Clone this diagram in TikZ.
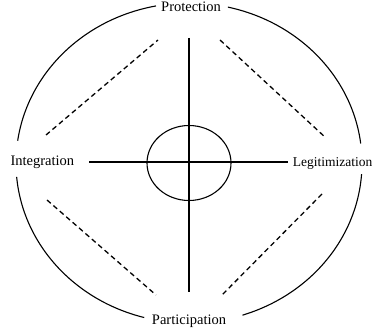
\documentclass[tikz,border=0pt]{standalone}
\usepackage{fontspec}
\setmainfont{Liberation Serif}
\usetikzlibrary{positioning,shapes.geometric}
\begin{document}
\begin{tikzpicture}[x=1pt,y=1pt,line width=1.1pt,
      lbl/.style={font=\fontsize{14.5}{17}\selectfont,inner sep=0pt},
      dsh/.style={dash pattern=on 5pt off 3.5pt,line width=1.3pt}]
    \useasboundingbox (0,0) rectangle (375,332);

    % outer ring, broken at the four labels
    \foreach \a/\b in {7/77,101/172,185/255,288/356}
      \draw ([shift={(\a:173pt and 160pt)}]189,169)
        arc[start angle=\a,end angle=\b,x radius=173pt,y radius=160pt];

    \node[lbl,anchor=base]      (prot)  at (191,320) {Protection};
    \node[lbl,anchor=base west] (integ) at (10,166)  {Integration};
    \node[lbl,anchor=base east,font=\fontsize{13.5}{16}\selectfont]
                                (legit) at (373,165) {Legitimization};
    \node[lbl,anchor=base]      (part)  at (189,7)   {Participation};

    % centre
    \node[draw,ellipse,minimum width=84pt,minimum height=75pt,
          line width=1.1pt] (core) at (189,169) {};
    \coordinate (w) at (89,170);
    \coordinate (e) at (288,170);
    \coordinate (n) at (189,294);
    \coordinate (s) at (189,40);
    \draw (w) -- (e);
    \draw (n) -- (s);

    % dashed chords
    \coordinate (ul1) at (46,197);  \coordinate (ul2) at (158,292);
    \coordinate (ur1) at (220,292); \coordinate (ur2) at (326,194);
    \coordinate (ll1) at (47,132);  \coordinate (ll2) at (156,37);
    \coordinate (lr1) at (322,138); \coordinate (lr2) at (222,37);
    \foreach \t in {ul,ur,ll,lr}
      \draw[dsh] (\t1) -- (\t2);
  \end{tikzpicture}
\end{document}
